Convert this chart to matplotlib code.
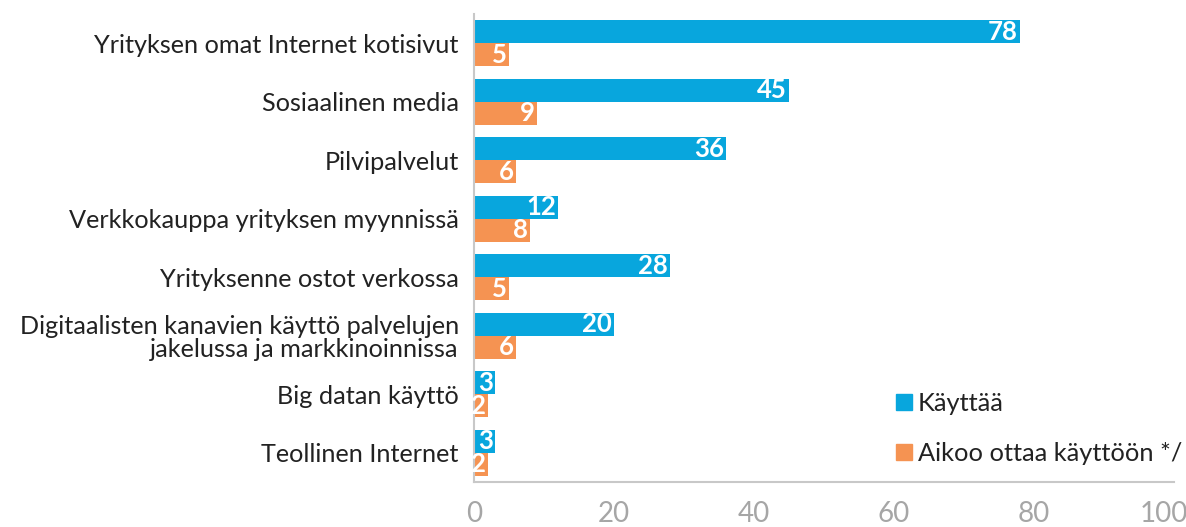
import numpy as np
import matplotlib.pyplot as plt
import matplotlib.transforms as mtransforms
from matplotlib.lines import Line2D

categories = ["Yrityksen omat Internet kotisivut", "Sosiaalinen media", "Pilvipalvelut",
              "Verkkokauppa yrityksen myynnissä", "Yrityksenne ostot verkossa",
              "Digitaalisten kanavien käyttö palvelujen\njakelussa ja markkinoinnissa",
              "Big datan käyttö", "Teollinen Internet"]
kayttaa = [78, 45, 36, 12, 28, 20, 3, 3]
aikoo = [5, 9, 6, 8, 5, 6, 2, 2]
series_names = ["Käyttää", "Aikoo ottaa käyttöön */"]

blue = "#08a6dd"
orange = "#f59352"
plt.rcParams['font.family'] = ['Lato', 'DejaVu Sans']

fig = plt.figure(figsize=(11.86, 5.27), dpi=100)
ax = fig.add_axes([0.3997, 0.0854, 0.5902, 0.888])

y = np.arange(len(categories))
h = 0.39
ax.barh(y - h / 2, kayttaa, height=h, color=blue)
ax.barh(y + h / 2, aikoo, height=h, color=orange)

for yi, v in zip(y, kayttaa):
    ax.text(v - 0.3, yi - h / 2, str(v), color="white", fontsize=18.5, fontweight="bold",
            ha="right", va="center")
for yi, v in zip(y, aikoo):
    ax.text(v - 0.3, yi + h / 2, str(v), color="white", fontsize=18.5, fontweight="bold",
            ha="right", va="center")

ax.set_ylim(len(categories) - 0.5, -0.5)
ax.set_xlim(0, 100)
ax.set_yticks(y)
ax.set_yticklabels(categories, fontsize=18.2, color="#222222", linespacing=1.0)
ax.set_xticks([0, 20, 40, 60, 80, 100])
ax.tick_params(axis="x", labelsize=20, colors="#a6a6a6", length=0, pad=14)
ax.tick_params(axis="y", length=0, pad=11)
last = ax.get_xticklabels()[-1]
last.set_transform(last.get_transform() + mtransforms.ScaledTranslation(-10 / 100, 0, fig.dpi_scale_trans))
for s in ["top", "right"]:
    ax.spines[s].set_visible(False)
for s in ["left", "bottom"]:
    ax.spines[s].set_color("#c8c8c8")
    ax.spines[s].set_linewidth(1.5)

handles = [Line2D([], [], marker="s", linestyle="", color=blue, markersize=12),
           Line2D([], [], marker="s", linestyle="", color=orange, markersize=12)]
leg = fig.legend(handles, series_names, loc="lower right",
                 bbox_to_anchor=(1182 / 1186, 62 / 527),
                 frameon=False, fontsize=18.3, handletextpad=0.15, labelspacing=1.05,
                 handlelength=0.8, borderaxespad=0, borderpad=0)
for t in leg.get_texts():
    t.set_color("#222222")

fig.savefig("out.png", dpi=100)
